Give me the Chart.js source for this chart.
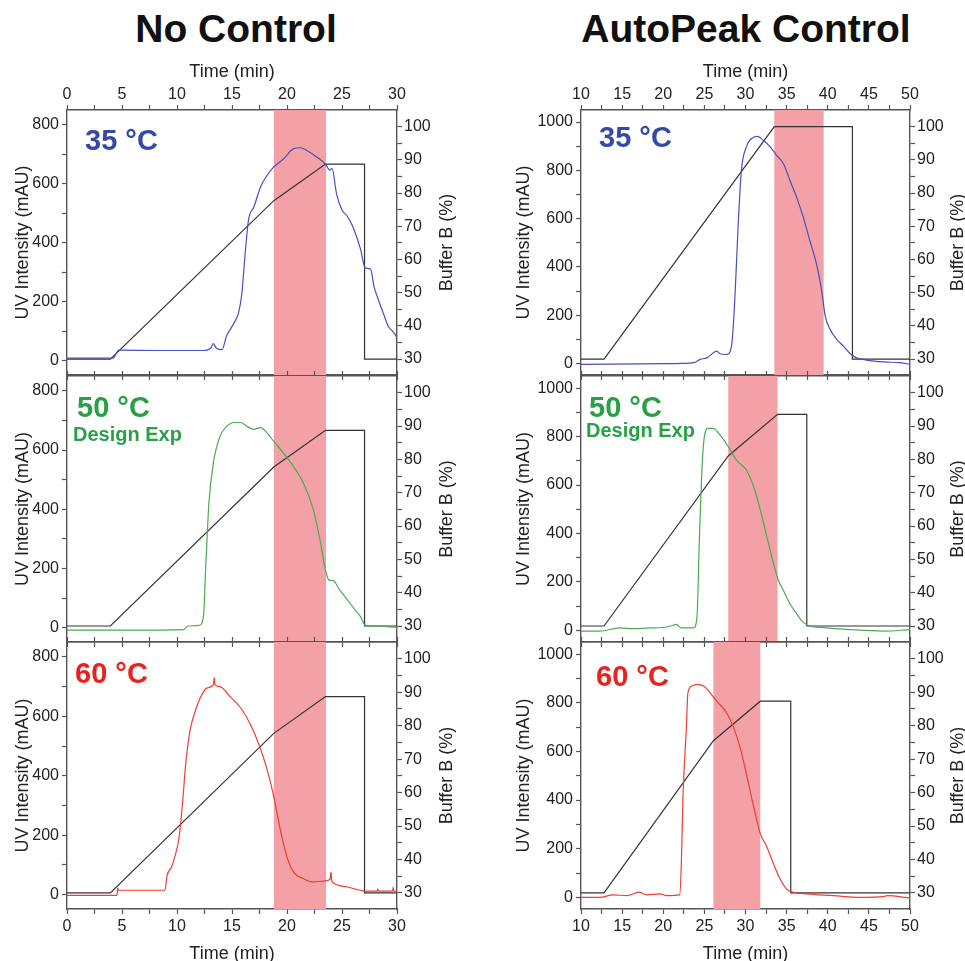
<!DOCTYPE html>
<html>
<head>
<meta charset="utf-8">
<script src="https://cdn.jsdelivr.net/npm/chart.js@4/dist/chart.umd.min.js"></script>
<style>
  body { margin: 0; background: #fff; width: 965px; height: 961px; overflow: hidden; position: relative;
         font-family: "Liberation Sans", Arial, sans-serif; }
  .big { position: absolute; top: 9px; width: 400px; text-align: center; font-weight: bold;
         font-size: 39px; line-height: 39px; color: #111; }
  canvas { position: absolute; }
</style>
</head>
<body>
<div class="big" style="left:36px">No Control</div>
<div class="big" style="left:546px">AutoPeak Control</div>
<canvas id="nc35"></canvas>
<canvas id="nc50"></canvas>
<canvas id="nc60"></canvas>
<canvas id="ap35"></canvas>
<canvas id="ap50"></canvas>
<canvas id="ap60"></canvas>
<script>
// ---- data ----
const panelLabels = ["35 °C", "50 °C", "60 °C"];
const subLabel = "Design Exp";

const timeTicksNC = [0, 5, 10, 15, 20, 25, 30];
const timeTicksAP = [10, 15, 20, 25, 30, 35, 40, 45, 50];
const uvTicksNC = [0, 200, 400, 600, 800];
const uvTicksAP = [0, 200, 400, 600, 800, 1000];
const bufTicks = [30, 40, 50, 60, 70, 80, 90, 100];

// collection windows (min)
const ncWindow = [18.8, 23.55];
const ap35Window = [33.5, 39.5];
const ap50Window = [27.9, 33.9];
const ap60Window = [26.1, 31.8];

// buffer B gradients
const ncBufTime = [0, 3.94, 18.8, 23.5, 27.05, 27.05, 30];
const ncBufPct = [30, 30, 77.7, 88.7, 88.7, 30, 30];
const ap35BufTime = [10, 12.8, 33.5, 43.0, 43.0, 50];
const ap35BufPct = [30, 30, 100, 100, 30, 30];
const ap50BufTime = [10, 12.8, 27.9, 33.9, 37.45, 37.45, 50];
const ap50BufPct = [30, 30, 81, 93.5, 93.5, 30, 30];
const ap60BufTime = [10, 12.8, 26.1, 31.8, 35.5, 35.5, 50];
const ap60BufPct = [30, 30, 75.5, 87.3, 87.3, 30, 30];

// UV traces
const nc35Time = [0, 4.2, 4.4, 4.7, 5, 8, 12.5, 13.1, 13.3, 13.6, 14.1, 14.5, 14.9, 15.2, 15.6, 15.9, 16.2, 16.5, 17, 17.6, 18.2, 18.8, 19.7, 20.6, 21.2, 21.8, 22.7, 23.5, 23.9, 24.1, 24.5, 25, 25.5, 26.1, 26.7, 27.1, 27.6, 27.9, 28.3, 28.8, 29.2, 29.7, 30];
const nc35UV = [9, 9, 20, 36, 36, 35, 35, 45, 58, 42, 38, 84, 110, 129, 163, 230, 365, 477, 522, 590, 629, 657, 685, 719, 722, 713, 691, 666, 646, 652, 567, 511, 489, 444, 376, 315, 311, 253, 208, 157, 118, 96, 79];

const nc50Time = [0, 5, 10.6, 11, 12, 12.4, 12.6, 12.9, 13.3, 13.9, 14.5, 15.2, 15.8, 16.4, 17, 17.6, 18.2, 18.8, 19.7, 20.6, 21.5, 22.4, 23, 23.5, 23.8, 24.2, 24.8, 25.5, 26.1, 26.7, 27.1, 27.9, 30];
const nc50UV = [-8, -8, -6, 6, 8, 37, 195, 420, 555, 646, 679, 693, 693, 679, 670, 676, 657, 629, 589, 544, 488, 398, 296, 195, 161, 159, 127, 94, 65, 37, 9, 6, 1];

const nc60Time = [0, 4.55, 4.6, 4.7, 8.9, 9.1, 9.5, 9.8, 10.2, 10.5, 10.8, 11.2, 11.7, 12.1, 12.7, 13.3, 13.4, 13.45, 13.9, 14.8, 15.8, 16.7, 17.4, 18.2, 18.8, 19.4, 20, 20.6, 21.5, 22.4, 23.3, 23.9, 24, 24.05, 24.2, 25.5, 26.7, 27.1, 28.2, 28.25, 28.3, 29.6, 29.65, 29.7, 30];
const nc60UV = [-2, -2, 22, 15, 15, 65, 93, 127, 195, 307, 442, 555, 622, 661, 695, 706, 730, 706, 700, 667, 628, 571, 510, 420, 330, 217, 127, 76, 54, 43, 46, 51, 76, 51, 40, 26, 15, 12, 12, 20, 12, 12, 25, 12, 12];

const ap35Time = [10, 20.4, 22.4, 23.7, 24.5, 25.3, 26.1, 26.5, 26.9, 27.7, 28.3, 28.7, 29.1, 29.5, 30.1, 30.7, 31.4, 32.2, 33, 33.8, 34.6, 35.4, 36.2, 37, 37.8, 38.7, 39.3, 39.7, 40.3, 41.1, 41.9, 42.7, 43.5, 44.7, 46.8, 48.8, 50];
const ap35UV = [-4, -1, 0, 3, 17, 23, 44, 51, 40, 37, 72, 264, 567, 800, 897, 931, 941, 924, 897, 862, 828, 759, 690, 608, 512, 402, 292, 195, 140, 99, 72, 41, 23, 14, 6, 3, -4];

const ap50Time = [10, 12.3, 14.7, 16.4, 18.4, 20.4, 21.2, 21.6, 22.2, 23.7, 24.1, 24.4, 24.7, 25, 25.5, 26.1, 26.9, 27.9, 28.9, 30.1, 31, 31.8, 32.6, 33.4, 34, 34.6, 35.4, 36.2, 37, 37.8, 39.5, 42.7, 46.8, 50];
const ap50UV = [-3, -3, 10, 7, 10, 14, 21, 25, 10, 10, 55, 386, 662, 800, 834, 834, 807, 759, 703, 662, 593, 497, 386, 276, 207, 166, 110, 69, 34, 18, 11, 3, -3, 3];

const ap60Time = [10, 12.3, 13.9, 15.6, 17, 18, 19.6, 20.4, 22, 22.2, 22.4, 22.8, 23, 23.5, 24.1, 24.9, 25.7, 26.5, 27.7, 28.5, 29.3, 30.1, 30.9, 31.8, 32.6, 33.4, 34.2, 35, 35.8, 37.4, 40.7, 43.9, 46.8, 47.2, 50];
const ap60UV = [0, 0, 10, 7, 21, 10, 14, 7, 10, 138, 414, 690, 841, 869, 876, 869, 841, 807, 759, 703, 621, 510, 386, 262, 207, 138, 76, 34, 21, 14, 7, 0, 3, 7, -3];

// ---- look ----
const bandColor = "#f3a1a6";
const axisColor = "#555";
const textColor = "#222";
const colors = { 35: "#4650be", 50: "#4caa55", 60: "#f03c32" };
const labelColors = { 35: "#3449a8", 50: "#2a9f48", 60: "#e8221e" };
const fontFam = "'Liberation Sans', Arial, sans-serif";

const cols = {
  nc: { left: 0, width: 482, yl: 67, yr: 85, titleL: 12, titleR: 35, range: [0, 30], uv: [-48, 850],
        tTicks: timeTicksNC, uTicks: uvTicksNC },
  ap: { left: 482, width: 500, yl: 99, yr: 72, titleL: 31, titleR: 24, range: [10, 50], uv: [-48, 1050],
        tTicks: timeTicksAP, uTicks: uvTicksAP }
};
const rows = {
  top: { top: 55, th: 55, plot: 265, bh: 16 },
  mid: { top: 360, th: 16, plot: 266, bh: 16 },
  bot: { top: 626, th: 16, plot: 267, bh: 60 }
};

const panels = [
  { id: "nc35", col: "nc", row: "top", t: 35, time: nc35Time, uv: nc35UV, bt: ncBufTime, bp: ncBufPct, win: ncWindow, lx: 18, ly: 40 },
  { id: "nc50", col: "nc", row: "mid", t: 50, time: nc50Time, uv: nc50UV, bt: ncBufTime, bp: ncBufPct, win: ncWindow, lx: 10, ly: 41, sub: true, sx: 6, sy: 65 },
  { id: "nc60", col: "nc", row: "bot", t: 60, time: nc60Time, uv: nc60UV, bt: ncBufTime, bp: ncBufPct, win: ncWindow, lx: 8, ly: 41 },
  { id: "ap35", col: "ap", row: "top", t: 35, time: ap35Time, uv: ap35UV, bt: ap35BufTime, bp: ap35BufPct, win: ap35Window, lx: 18, ly: 37 },
  { id: "ap50", col: "ap", row: "mid", t: 50, time: ap50Time, uv: ap50UV, bt: ap50BufTime, bp: ap50BufPct, win: ap50Window, lx: 8, ly: 41, sub: true, sx: 5, sy: 61 },
  { id: "ap60", col: "ap", row: "bot", t: 60, time: ap60Time, uv: ap60UV, bt: ap60BufTime, bp: ap60BufPct, win: ap60Window, lx: 15, ly: 44 }
];

const toPts = (xs, ys) => xs.map((x, i) => ({ x: x, y: ys[i] }));

// major ticks plus one minor tick between each pair
function withMinor(major) {
  const out = [];
  major.forEach((v, i) => {
    out.push(v);
    if (i < major.length - 1) out.push((v + major[i + 1]) / 2);
  });
  return out;
}
const setTicks = (vals) => (s) => { s.ticks = vals.map((v) => ({ value: v })); };

function decoPlugin(p, c) {
  return {
    id: "deco",
    beforeDatasetsDraw(chart) {
      const { ctx, chartArea, scales } = chart;
      const x0 = scales.x.getPixelForValue(p.win[0]);
      const x1 = scales.x.getPixelForValue(p.win[1]);
      ctx.save();
      ctx.fillStyle = bandColor;
      ctx.fillRect(x0, chartArea.top, x1 - x0, chartArea.bottom - chartArea.top);
      ctx.restore();
    },
    afterDraw(chart) {
      const { ctx, chartArea, scales } = chart;
      ctx.save();
      // right axis title, reading bottom to top
      ctx.fillStyle = textColor;
      ctx.font = "18px " + fontFam;
      ctx.textAlign = "center";
      ctx.textBaseline = "middle";
      ctx.translate(scales.y2.right - c.titleR, (chartArea.top + chartArea.bottom) / 2);
      ctx.rotate(-Math.PI / 2);
      ctx.fillText("Buffer B (%)", 0, 0);
      ctx.restore();
      // temperature label
      ctx.save();
      ctx.fillStyle = labelColors[p.t];
      ctx.textAlign = "left";
      ctx.textBaseline = "alphabetic";
      ctx.font = "bold 29px " + fontFam;
      ctx.fillText(panelLabels[[35, 50, 60].indexOf(p.t)], chartArea.left + p.lx, chartArea.top + p.ly);
      if (p.sub) {
        ctx.font = "bold 20px " + fontFam;
        ctx.fillText(subLabel, chartArea.left + p.sx, chartArea.top + p.sy);
      }
      ctx.restore();
    }
  };
}

function fixH(h) { return (s) => { s.height = h; }; }
function fixW(w) { return (s) => { s.width = w; }; }

panels.forEach((p) => {
  const c = cols[p.col];
  const r = rows[p.row];
  const canvas = document.getElementById(p.id);
  canvas.width = c.width;
  canvas.height = r.th + r.plot + r.bh;
  canvas.style.left = c.left + "px";
  canvas.style.top = r.top + "px";

  const tickFont = { family: fontFam, size: 16 };
  const titleFont = { family: fontFam, size: 18 };
  const grid = { display: true, drawOnChartArea: false, drawTicks: true, tickLength: 5, tickColor: axisColor, tickWidth: 1.2 };
  const border = { display: true, color: axisColor, width: 1.4 };
  const timeLabel = (v) => (c.tTicks.includes(v) ? v : "");
  const timeVals = withMinor(c.tTicks);

  new Chart(canvas, {
    type: "line",
    data: {
      datasets: [
        { data: toPts(p.time, p.uv), xAxisID: "x", yAxisID: "y", borderColor: colors[p.t],
          borderWidth: 1.2, pointRadius: 0, tension: 0.3, cubicInterpolationMode: "monotone" },
        { data: toPts(p.bt, p.bp), xAxisID: "x", yAxisID: "y2", borderColor: "#333",
          borderWidth: 1.2, pointRadius: 0, tension: 0 }
      ]
    },
    options: {
      responsive: false,
      animation: false,
      layout: { padding: 0 },
      plugins: { legend: { display: false }, tooltip: { enabled: false } },
      scales: {
        x: {
          type: "linear", position: "bottom", min: c.range[0], max: c.range[1],
          grid: grid, border: border,
          ticks: { display: p.row === "bot", autoSkip: false, maxRotation: 0,
                   padding: 3, color: textColor, font: tickFont, callback: timeLabel },
          afterBuildTicks: setTicks(timeVals),
          title: { display: p.row === "bot", text: "Time (min)", color: textColor, font: titleFont,
                   padding: { top: 0, bottom: 4.5 } },
          afterFit: fixH(r.bh)
        },
        x2: {
          type: "linear", position: "top", min: c.range[0], max: c.range[1],
          grid: grid, border: border,
          ticks: { display: p.row === "top", autoSkip: false, maxRotation: 0,
                   padding: 1, color: textColor, font: tickFont, callback: timeLabel },
          afterBuildTicks: setTicks(timeVals),
          title: { display: p.row === "top", text: "Time (min)", color: textColor, font: titleFont,
                   padding: { top: 6, bottom: 0 } },
          afterFit: fixH(r.th)
        },
        y: {
          type: "linear", position: "left", min: c.uv[0], max: c.uv[1],
          grid: grid, border: border,
          ticks: { autoSkip: false, padding: 3, color: textColor,
                   font: tickFont, callback: (v) => (c.uTicks.includes(v) ? v : "") },
          afterBuildTicks: setTicks(withMinor(c.uTicks)),
          title: { display: true, text: "UV Intensity (mAU)", color: textColor, font: titleFont,
                   padding: { top: c.titleL, bottom: 0 } },
          afterFit: fixW(c.yl)
        },
        y2: {
          type: "linear", position: "right", min: 25.2, max: 105,
          grid: grid, border: border,
          ticks: { autoSkip: false, padding: 2, color: textColor,
                   font: tickFont, callback: (v) => (bufTicks.includes(v) ? v : "") },
          afterBuildTicks: setTicks(withMinor(bufTicks)),
          afterFit: fixW(c.yr)
        }
      }
    },
    plugins: [decoPlugin(p, c)]
  });
});
</script>
</body>
</html>
